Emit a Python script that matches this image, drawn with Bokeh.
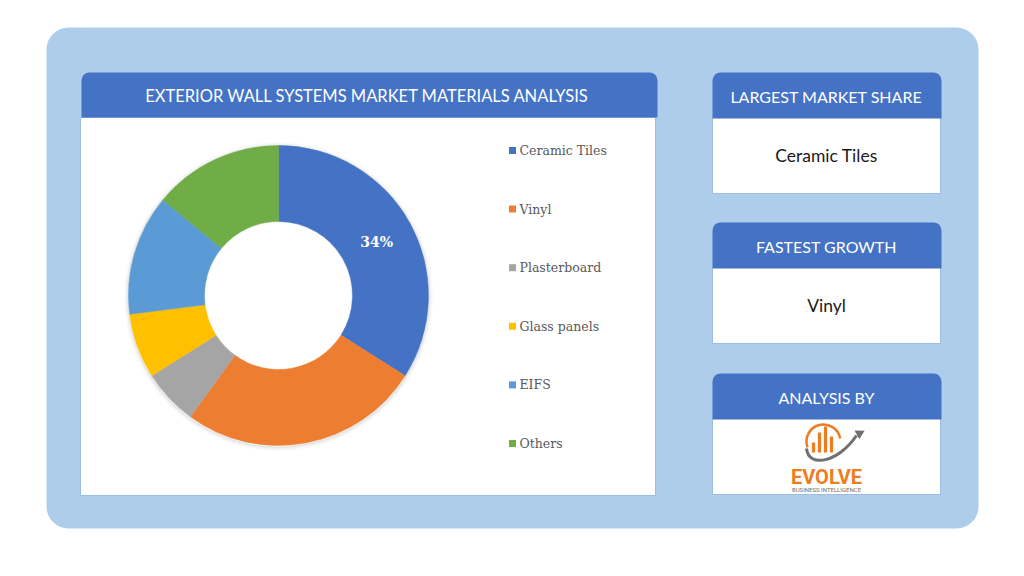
import math
from bokeh.plotting import figure
from bokeh.models import Range1d, ColumnDataSource
from bokeh.embed import file_html
from bokeh.resources import INLINE
from bokeh.core.properties import value

# ---- data ----
categories = ["Ceramic Tiles", "Vinyl", "Plasterboard", "Glass panels", "EIFS", "Others"]
shares = [34, 26, 6, 7, 13, 14]
colors = ["#4472C4", "#ED7D31", "#A5A5A5", "#FFC000", "#5B9BD5", "#70AD47"]
shown_labels = ["34%", "", "", "", "", ""]
chart_title = "EXTERIOR WALL SYSTEMS MARKET MATERIALS  ANALYSIS"
box_titles = ["LARGEST MARKET SHARE", "FASTEST GROWTH", "ANALYSIS BY"]
box_values = ["Ceramic Tiles", "Vinyl", ""]

W, H = 1008, 560
p = figure(width=W, height=H, output_backend="svg", toolbar_location=None,
           x_range=Range1d(0, W), y_range=Range1d(0, H),
           x_axis_location=None, y_axis_location=None, min_border=0)
p.grid.visible = False
p.outline_line_color = None
p.background_fill_color = "white"
p.border_fill_color = "white"


def Y(sy):
    return H - sy


HEAD = "#4472C4"
BODY_LINE = "#9DBCE3"
FONT = value("Lato")

# outer panel
p.quad(left=46, right=978, top=Y(27), bottom=Y(528), fill_color="#AECDEA",
       line_color=None, border_radius=22)

# chart panel
p.quad(left=80, right=655, top=Y(117), bottom=Y(495), fill_color="white",
       line_color=BODY_LINE, line_width=1)
p.quad(left=81, right=657, top=Y(72), bottom=Y(117), fill_color=HEAD,
       line_color=None, border_radius=(8, 8, 0, 0))
p.text(x=[369], y=[Y(95)], text=[chart_title], text_color="white",
       text_font=FONT, text_font_size="16.5px", text_align="center",
       text_baseline="middle")

# right boxes
tops = [72, 222, 373]
for i, t in enumerate(tops):
    p.quad(left=712, right=940, top=Y(t + 45), bottom=Y(t + 121), fill_color="white",
           line_color=BODY_LINE, line_width=1)
    p.quad(left=712, right=941, top=Y(t), bottom=Y(t + 46), fill_color=HEAD,
           line_color=None, border_radius=(8, 8, 0, 0))
    p.text(x=[826], y=[Y(t + 24)], text=[box_titles[i]], text_color="white",
           text_font=FONT, text_font_size="16px", text_align="center",
           text_baseline="middle")
    if box_values[i]:
        p.text(x=[826], y=[Y(t + 83)], text=[box_values[i]], text_color="#1a1a1a",
               text_font=FONT, text_font_size="17.5px", text_align="center",
               text_baseline="middle")

# donut
cx, cy, r_in, r_out = 278, Y(295), 74, 150
total = float(sum(shares))
starts, ends, lx, ly = [], [], [], []
cum = 0.0
for s in shares:
    a0 = math.pi / 2 - 2 * math.pi * (cum + s) / total
    a1 = math.pi / 2 - 2 * math.pi * cum / total
    starts.append(a0)
    ends.append(a1)
    mid = (a0 + a1) / 2
    rm = (r_in + r_out) / 2
    lx.append(cx + rm * math.cos(mid))
    ly.append(cy + rm * math.sin(mid))
    cum += s

# soft shadow
for k, a in enumerate([0.05, 0.035, 0.02]):
    p.annulus(x=cx, y=cy - 1, inner_radius=r_out, outer_radius=r_out + 1.5 * (k + 1),
              fill_color="black", fill_alpha=a, line_color=None)

src = ColumnDataSource(dict(start=starts, end=ends, color=colors, cat=categories,
                            lx=lx, ly=ly, lab=shown_labels))
p.annular_wedge(x=cx, y=cy, inner_radius=r_in, outer_radius=r_out,
                start_angle="start", end_angle="end", fill_color="color",
                line_color="color", line_width=0.5, source=src)
p.text(x="lx", y="ly", text="lab", source=src, text_color="white",
       text_font=value("DejaVu Serif"), text_font_style="bold",
       text_font_size="14px", text_align="center", text_baseline="middle")

# legend
leg_y = [150 + 58.6 * i for i in range(len(categories))]
p.rect(x=[512] * len(categories), y=[Y(v) for v in leg_y], width=7, height=7,
       fill_color=colors, line_color=None)
p.text(x=[519] * len(categories), y=[Y(v) for v in leg_y], text=categories,
       text_color="#595959", text_font=value("DejaVu Serif"),
       text_font_size="12.5px", text_align="left", text_baseline="middle")

# logo
ORG = "#EE7D22"
p.arc(x=823, y=Y(441), radius=17, start_angle=math.radians(10),
      end_angle=math.radians(200), line_color=ORG, line_width=2.5)
bx = [813, 819, 825, 831]
bh = [10, 20, 26, 16]
p.vbar(x=bx, top=[Y(452) + h for h in bh], bottom=Y(452), width=3.2,
       fill_color=ORG, line_color=None)
p.bezier(x0=806, y0=Y(448), x1=856, y1=Y(435), cx0=808, cy0=Y(468),
         cx1=838, cy1=Y(462), line_color="#707070", line_width=3)
p.scatter(x=[859], y=[Y(433)], marker="triangle", size=10,
          angle=math.radians(-62), fill_color="#707070", line_color=None)
p.text(x=[826], y=[Y(476)], text=["EVOLVE"], text_color=ORG,
       text_font=value("Roboto"), text_font_style="bold", text_font_size="20px",
       text_align="center", text_baseline="middle")
p.text(x=[826], y=[Y(489)], text=["BUSINESS INTELLIGENCE"], text_color="#707070",
       text_font=value("Roboto"), text_font_size="6px",
       text_align="center", text_baseline="middle")

open("out.html", "w").write(file_html(p, INLINE))
